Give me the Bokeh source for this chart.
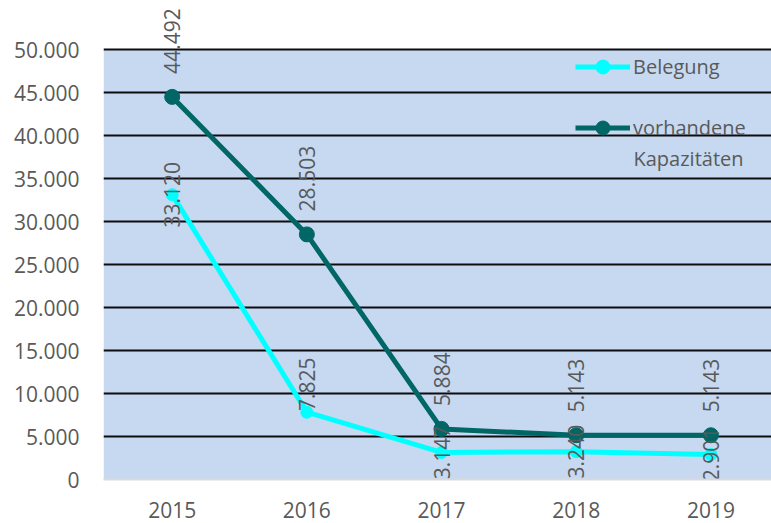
import math
from bokeh.plotting import figure
from bokeh.models import (ColumnDataSource, Range1d, FixedTicker, Legend, LegendItem,
                          Label, BoxAnnotation)
from bokeh.core.properties import value
from bokeh.embed import file_html
from bokeh.resources import INLINE

# ---- data ----
years = [2015, 2016, 2017, 2018, 2019]
belegung = [33120, 7825, 3147, 3240, 2901]
kapazitaeten = [44492, 28503, 5884, 5143, 5143]
series_names = ["Belegung", "vorhandene", "Kapazitäten"]
y_ticks = [0, 5000, 10000, 15000, 20000, 25000, 30000, 35000, 40000, 45000, 50000]
y_tick_labels = ["0", "5.000", "10.000", "15.000", "20.000", "25.000",
                 "30.000", "35.000", "40.000", "45.000", "50.000"]
x_tick_labels = ["2015", "2016", "2017", "2018", "2019"]
y_max = 50000

# ---- styling ----
FONT = "Open Sans"
TXT = "#595959"
CYAN = "#00FFFF"
TEAL = "#006666"
BG = "#C6D9F1"
beleg_label_offsets = [0, -28, 0, 0, 0]


def de(v):
    return f"{v:,}".replace(",", ".")


p = figure(width=771, height=523, output_backend="svg", toolbar_location=None,
           x_range=Range1d(2014.49, 2019.45), y_range=Range1d(0, y_max * 1.114),
           min_border_left=103, min_border_right=0, min_border_top=0,
           min_border_bottom=44)
p.background_fill_color = "white"
p.border_fill_color = "white"
p.outline_line_color = None
p.add_layout(BoxAnnotation(bottom=0, top=y_max, fill_color=BG, fill_alpha=1,
                           line_color=None, level="image"))

p.xgrid.grid_line_color = None
p.ygrid.ticker = FixedTicker(ticks=y_ticks)
p.ygrid.grid_line_color = "#0d0d0d"
p.ygrid.grid_line_width = 2

p.yaxis.ticker = FixedTicker(ticks=y_ticks)
p.yaxis.major_label_overrides = {t: l for t, l in zip(y_ticks, y_tick_labels)}
p.yaxis.axis_line_color = None
p.yaxis.major_tick_line_color = None
p.yaxis.minor_tick_line_color = None
p.yaxis.major_label_standoff = 18

p.xaxis.ticker = FixedTicker(ticks=years)
p.xaxis.major_label_overrides = {t: l for t, l in zip(years, x_tick_labels)}
p.xaxis.axis_line_color = "#D9D9D9"
p.xaxis.axis_line_width = 2
p.xaxis.major_tick_line_color = None
p.xaxis.minor_tick_line_color = None
p.xaxis.major_label_standoff = 16

for ax in (p.xaxis, p.yaxis):
    ax.major_label_text_font = FONT
    ax.major_label_text_font_size = "21px"
    ax.major_label_text_color = TXT

src_b = ColumnDataSource(dict(x=years, y=belegung,
                              lab=[de(v) for v in belegung],
                              off=beleg_label_offsets))
src_k = ColumnDataSource(dict(x=years, y=kapazitaeten,
                              lab=[de(v) for v in kapazitaeten]))

lb = p.line("x", "y", source=src_b, line_color=CYAN, line_width=5)
mb = p.scatter("x", "y", source=src_b, size=12, fill_color=CYAN, line_color=CYAN)
lk = p.line("x", "y", source=src_k, line_color=TEAL, line_width=5)
mk = p.scatter("x", "y", source=src_k, size=15, fill_color=TEAL, line_color=TEAL)

p.text("x", "y", text="lab", source=src_b, angle=math.pi / 2,
       text_align="center", text_baseline="middle", y_offset="off",
       text_font=value(FONT), text_font_size="21px", text_color=TXT)
p.text("x", "y", text="lab", source=src_k, angle=math.pi / 2,
       text_align="left", text_baseline="middle", y_offset=-23,
       text_font=value(FONT), text_font_size="21px", text_color=TXT)

legend = Legend(items=[LegendItem(label=series_names[0], renderers=[lb, mb]),
                       LegendItem(label=series_names[1], renderers=[lk, mk])],
                location=(472, 334), orientation="vertical",
                background_fill_alpha=0, border_line_color=None,
                padding=0, margin=0, spacing=26,
                glyph_width=55, glyph_height=35, label_height=20,
                label_standoff=3,
                label_text_font=FONT, label_text_font_size="20px",
                label_text_color=TXT)
p.add_layout(legend, "center")
p.add_layout(Label(x=530, y=321, x_units="screen", y_units="screen",
                   text=series_names[2], text_baseline="middle",
                   text_font=FONT, text_font_size="20px", text_color=TXT))

open("out.html", "w").write(file_html(p, INLINE))
